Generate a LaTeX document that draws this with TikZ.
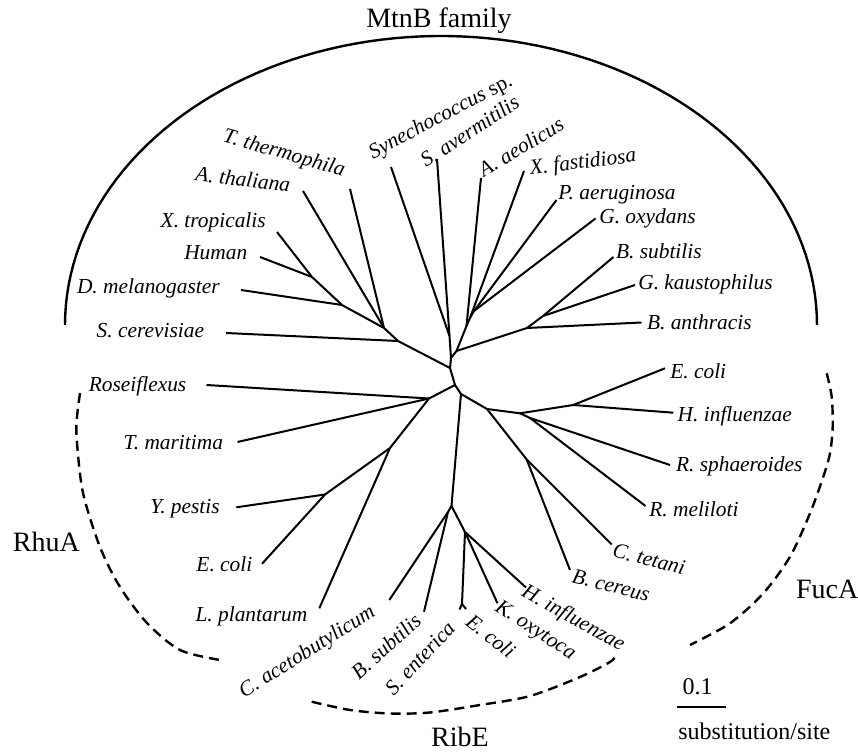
\documentclass[tikz,border=0pt]{standalone}
\usepackage{fontspec}
\setmainfont{Liberation Serif}
\begin{document}
\begin{tikzpicture}
        [x=0.5pt,y=-0.5pt,line width=1pt,
         taxon/.style={font=\itshape\fontsize{10.7}{12}\selectfont,inner sep=0pt},
         clade/.style={font=\fontsize{14}{16}\selectfont,inner sep=0pt},
         group/.style={line width=1.2pt,dash pattern=on 5pt off 3pt}]
        \useasboundingbox (0,0) rectangle (858,753);

        \coordinate (c1) at (450,368);
        \coordinate (c2) at (451,358);
        \coordinate (c3) at (456.5,351);
        \coordinate (d1) at (455,385);
        \coordinate (d2) at (461,394);

        \coordinate (e1) at (312,277);
        \coordinate (e2) at (342,305);
        \coordinate (e3) at (384,328);
        \coordinate (e4) at (398,341);
        \coordinate (tthe) at (350,189);
        \coordinate (atha) at (303,191);
        \coordinate (xtro) at (277,232);
        \coordinate (hum) at (260,257);
        \coordinate (dmel) at (241,290);
        \coordinate (scer) at (226,333);

        \coordinate (s1) at (449.5,336);
        \coordinate (syn) at (391,167);
        \coordinate (save) at (437,159);

        \coordinate (a1) at (474,311);
        \coordinate (a2) at (470,318);
        \coordinate (a3) at (466.5,326);
        \coordinate (aaeo) at (481,178);
        \coordinate (xfas) at (524,171);
        \coordinate (paer) at (556.5,200);
        \coordinate (goxy) at (595.5,218.5);

        \coordinate (b1) at (527,328);
        \coordinate (b2) at (543,316);
        \coordinate (bsub) at (613.5,257);
        \coordinate (gkau) at (635,285);
        \coordinate (bant) at (641.5,322.5);

        \coordinate (r0) at (429,398.5);
        \coordinate (r1) at (390,448);
        \coordinate (r2) at (325,494.5);
        \coordinate (rose) at (206.5,385);
        \coordinate (tmar) at (237.5,442);
        \coordinate (ypes) at (236.3,507.3);
        \coordinate (ecor) at (262,563.8);
        \coordinate (lpla) at (319.3,608.3);

        \coordinate (f1) at (487,409);
        \coordinate (f2) at (520,413.3);
        \coordinate (f3) at (573.3,405);
        \coordinate (f4) at (530,418);
        \coordinate (f5) at (526.7,459.5);
        \coordinate (ecof) at (665,368.3);
        \coordinate (hinf) at (673.3,412.7);
        \coordinate (rsph) at (670,465);
        \coordinate (rmel) at (645.5,506);
        \coordinate (ctet) at (611.7,544.5);
        \coordinate (bcer) at (570,570);

        \coordinate (g0) at (448,512);
        \coordinate (g1) at (451.5,506);
        \coordinate (g2) at (465,532);
        \coordinate (g3) at (462,604);
        \coordinate (cace) at (389.3,600);
        \coordinate (bsur) at (424,611.7);
        \coordinate (sent) at (459.5,609.5);
        \coordinate (ecob) at (466,609);
        \coordinate (koxy) at (497.5,603.3);
        \coordinate (hinr) at (526,587.5);

        \node[taxon,rotate=-16] (tthel) at (284,154) {T. thermophila};
        \node[taxon,rotate=-7] (athal) at (243,179) {A. thaliana};
        \node[taxon,anchor=base east] (xtrol) at (266.7,227.7) {X. tropicalis};
        \node[taxon,anchor=base east] (huml) at (248.3,260) {Human};
        \node[taxon,anchor=base east] (dmell) at (220.7,293.5) {D. melanogaster};
        \node[taxon,anchor=base east] (scerl) at (205,337.5) {S. cerevisiae};
        \node[taxon,rotate=28] (synl) at (441,117.5) {Synechococcus \upshape sp.};
        \node[taxon,rotate=33] (savel) at (469.5,131) {S. avermitilis};
        \node[taxon,rotate=31] (aaeol) at (521,146.7) {A. aeolicus};
        \node[taxon,rotate=7] (xfasl) at (583,163) {X. fastidiosa};
        \node[taxon,anchor=base west] (paerl) at (557.3,200) {P. aeruginosa};
        \node[taxon,anchor=base west] (goxyl) at (598.3,223.3) {G. oxydans};
        \node[taxon,anchor=base west] (bsubl) at (615,258.3) {B. subtilis};
        \node[taxon,anchor=base west] (gkaul) at (637.3,290) {G. kaustophilus};
        \node[taxon,anchor=base west] (bantl) at (646,329.3) {B. anthracis};

        \node[taxon,anchor=base east] (rosel) at (187.3,391.7) {Roseiflexus};
        \node[taxon,anchor=base east] (tmarl) at (224,449.3) {T. maritima};
        \node[taxon,anchor=base east] (ypesl) at (220.7,513.3) {Y. pestis};
        \node[taxon,anchor=base east] (ecorl) at (253.3,571.7) {E. coli};
        \node[taxon,anchor=base east] (lplal) at (308.3,621.7) {L. plantarum};

        \node[taxon,anchor=base west] (ecofl) at (669.3,378.3) {E. coli};
        \node[taxon,anchor=base west] (hinfl) at (676.7,421.7) {H. influenzae};
        \node[taxon,anchor=base west] (rsphl) at (675,471.7) {R. sphaeroides};
        \node[taxon,anchor=base west] (rmell) at (648.3,517) {R. meliloti};
        \node[taxon,rotate=-14] (ctetl) at (649,559) {C. tetani};
        \node[taxon,rotate=-14] (bcerl) at (611,585.5) {B. cereus};

        \node[taxon,rotate=32] (cacel) at (307.5,652.5) {C. acetobutylicum};
        \node[taxon,rotate=42] (bsurl) at (386,646) {B. subtilis};
        \node[taxon,rotate=47] (sentl) at (420,658) {S. enterica};
        \node[taxon,rotate=-38] (ecobl) at (491,636) {E. coli};
        \node[taxon,rotate=-33] (koxyl) at (535,631) {K. oxytoca};
        \node[taxon,rotate=-29] (hinrl) at (573,619) {H. influenzae};

        \node[clade,anchor=base] (mtnb) at (439,28) {MtnB family};
        \node[clade,anchor=base] (rhua) at (46.3,551.7) {RhuA};
        \node[clade,anchor=base west] (fuca) at (795,598.3) {FucA};
        \node[clade,anchor=base] (ribe) at (460,746.7) {RibE};

        \coordinate (sb1) at (677,706.7);
        \coordinate (sb2) at (726,706.7);
        \node[font=\fontsize{12}{14}\selectfont,inner sep=0pt,anchor=base] (sbl) at (697.5,695) {0.1};
        \node[font=\fontsize{12}{14}\selectfont,inner sep=0pt,anchor=base west] (sbu) at (677.3,740) {substitution/site};

        \draw (c1) -- (c2);
        \draw (c2) -- (c3);
        \draw (c1) -- (d1);
        \draw (d1) -- (d2);

        \draw (e4) -- (c1);
        \draw (e3) -- (e4);
        \draw (scer) -- (e4);
        \draw (e2) -- (e3);
        \draw (atha) -- (e3);
        \draw (tthe) -- (e3);
        \draw (e1) -- (e2);
        \draw (dmel) -- (e2);
        \draw (xtro) -- (e1);
        \draw (hum) -- (e1);

        \draw (s1) -- (c2);
        \draw (syn) -- (s1);
        \draw (save) -- (s1);

        \draw (a3) -- (c3);
        \draw (aaeo) -- (a3);
        \draw (a2) -- (a3);
        \draw (xfas) -- (a2);
        \draw (a1) -- (a2);
        \draw (paer) -- (a1);
        \draw (goxy) -- (a1);

        \draw (b1) -- (c3);
        \draw (bant) -- (b1);
        \draw (b2) -- (b1);
        \draw (bsub) -- (b2);
        \draw (gkau) -- (b2);

        \draw (d1) -- (r0);
        \draw (rose) -- (r0);
        \draw (tmar) -- (r0);
        \draw (r0) -- (r1);
        \draw (lpla) -- (r1);
        \draw (r1) -- (r2);
        \draw (ypes) -- (r2);
        \draw (ecor) -- (r2);

        \draw (d2) -- (f1);
        \draw (f1) -- (f2);
        \draw (f2) -- (f3);
        \draw (ecof) -- (f3);
        \draw (hinf) -- (f3);
        \draw (f2) -- (f4);
        \draw (rsph) -- (f4);
        \draw (rmel) -- (f4);
        \draw (f1) -- (f5);
        \draw (ctet) -- (f5);
        \draw (bcer) -- (f5);

        \draw (d2) -- (g1);
        \draw (g1) -- (g0);
        \draw (cace) -- (g0);
        \draw (bsur) -- (g0);
        \draw (g1) -- (g2);
        \draw (g2) -- (g3);
        \draw (sent) -- (g3);
        \draw (ecob) -- (g3);
        \draw (koxy) -- (g2);
        \draw (hinr) -- (g2);

        \draw (sb1) -- (sb2);

        \draw[line width=1.2pt] plot[domain=180:360,samples=90] ({441+376*cos(\x)},{325+289*sin(\x)});
        \draw[group] plot[smooth] coordinates {(80,393) (76.7,420) (77,443) (83,493) (100,547) (120,587) (147,623) (180,650) (220,660)};
        \draw[group] plot[smooth] coordinates {(311.7,701.7) (350,710) (390,713.5) (430,712.5) (480,705) (530,696) (580,677) (610,662) (616,655)};
        \draw[group] plot[smooth] coordinates {(826.7,373.3) (831.7,396.7) (832.7,426.7) (830,453.3) (823.3,476.7) (810,513.3) (790,556.7) (763.3,593.3) (730,623.3) (690,645)};
\end{tikzpicture}
\end{document}
